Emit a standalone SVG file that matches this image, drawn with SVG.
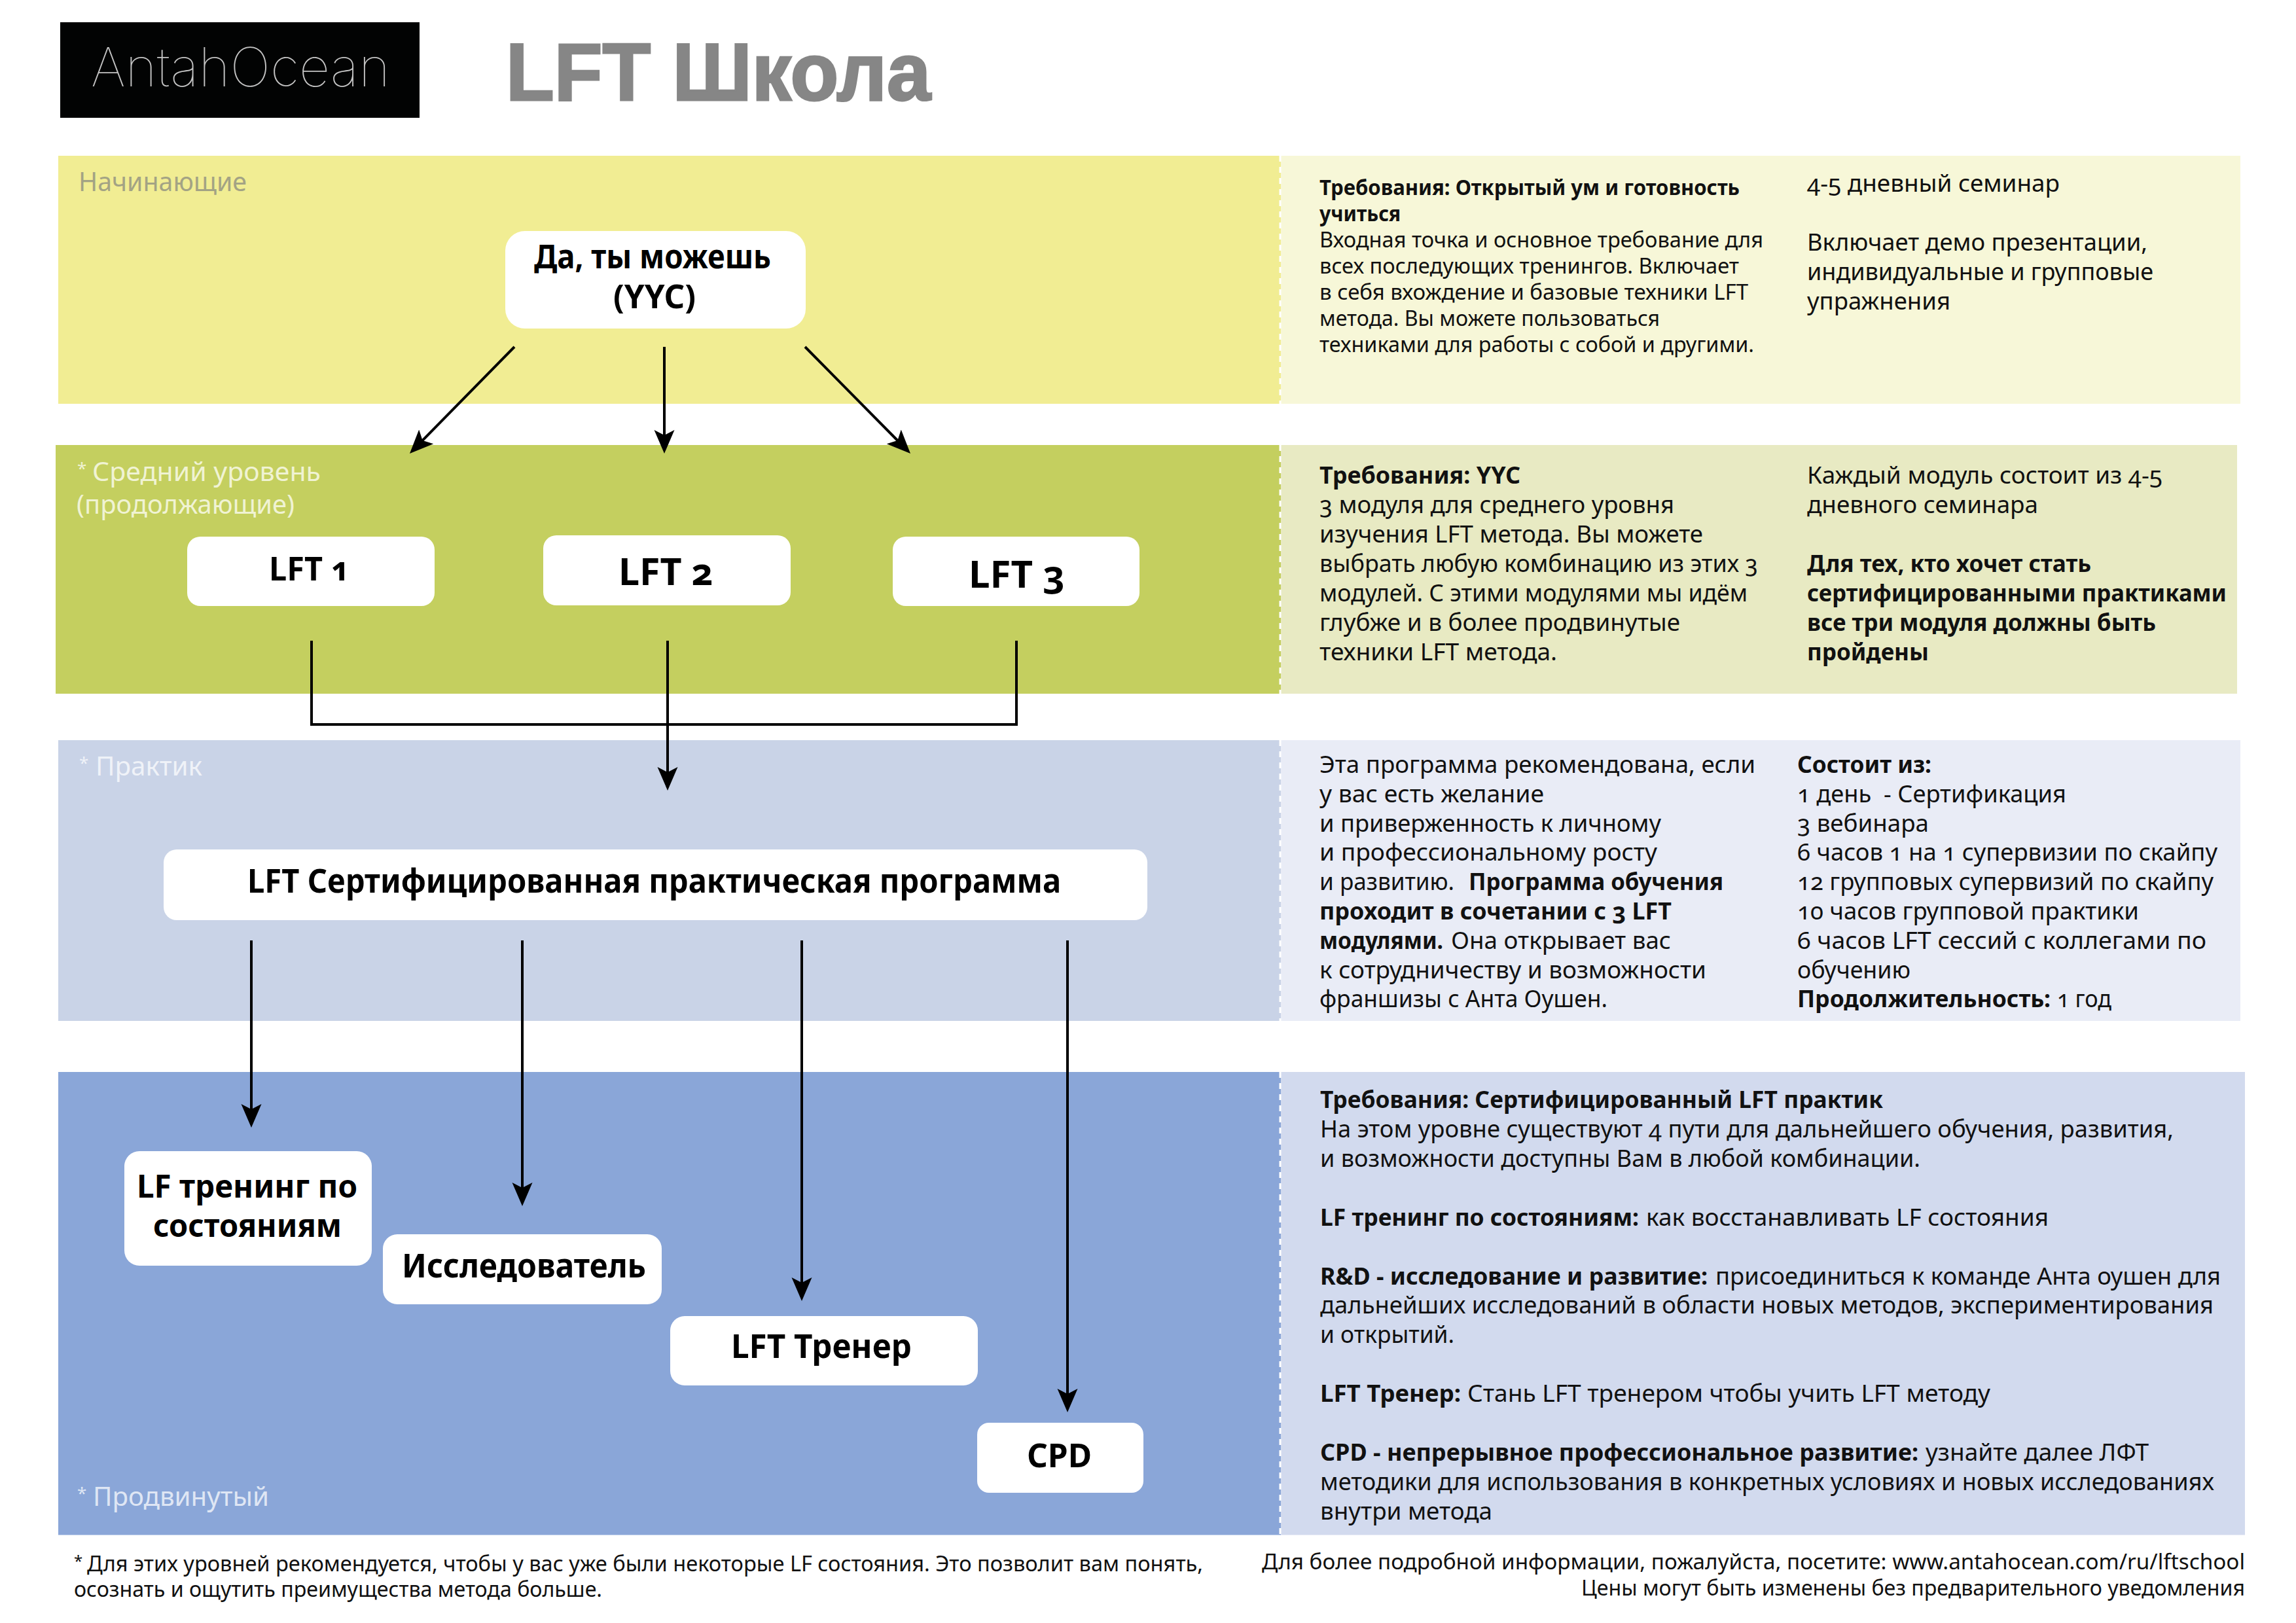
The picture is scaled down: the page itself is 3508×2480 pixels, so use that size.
<svg xmlns="http://www.w3.org/2000/svg" width="3508" height="2480" viewBox="0 0 3508 2480">
<style>
text{font-family:"Noto Sans","Open Sans","Liberation Sans",sans-serif;fill:#111;font-variant-numeric:oldstyle-nums;}
.t{font-size:36px;}
.s{font-size:32.5px;}
.f{font-size:32px;}
.b{font-weight:700;}
.l{font-size:40px;}
.n{font-size:50px;font-weight:700;fill:#000;}
.node{fill:#fff;}
.dash{stroke:#fff;stroke-width:3;stroke-dasharray:9 8;fill:none;}
.c{stroke:#000;stroke-width:4;fill:none;}
</style>
<defs>
<marker id="arrow" markerUnits="userSpaceOnUse" markerWidth="40" markerHeight="36" refX="24" refY="18" orient="auto">
<path d="M0,2.5 L36,18 L0,33.5 L8,18 z" fill="#000"/>
</marker>
</defs>
<rect width="3508" height="2480" fill="#fff"/>
<g id="header">
<rect x="92" y="34" width="549" height="146" fill="#020303"/>
<text x="139" y="132" font-size="82" textLength="457" lengthAdjust="spacingAndGlyphs" style="font-family:Inter,'Noto Sans',sans-serif;font-weight:100;fill:#c4c4c4">AntahOcean</text>
<text x="773" y="153" font-size="124" textLength="649" lengthAdjust="spacingAndGlyphs" style="font-family:'Liberation Sans',sans-serif;font-weight:700;fill:#868686;stroke:#868686;stroke-width:3">LFT Школа</text>
</g>
<g id="bands">
<rect x="89" y="238" width="1868" height="379" fill="#f1ed93"/>
<rect x="1957" y="238" width="1466" height="379" fill="#f7f7d8"/>
<rect x="85" y="680" width="1872" height="380" fill="#c4cf5f"/>
<rect x="1957" y="680" width="1461" height="380" fill="#e8eac3"/>
<rect x="89" y="1131" width="1868" height="429" fill="#c9d3e7"/>
<rect x="1957" y="1131" width="1466" height="429" fill="#e9ecf6"/>
<rect x="89" y="1638" width="1868" height="707.500" fill="#8aa6d8"/>
<rect x="1957" y="1638" width="1473" height="707.500" fill="#d2daee"/>
<path class="dash" d="M1956,238V617M1956,680V1060M1956,1131V1560M1956,1638V2345"/>
</g>
<g id="band-labels">
<text class="l" x="120" y="292" textLength="257" lengthAdjust="spacingAndGlyphs" style="fill:#a3a384">Начинающие</text>
<text class="l" y="735" style="fill:#f0f3d3"><tspan x="118" dy="-10" style="font-size:26px">*</tspan><tspan x="141" dy="10" textLength="349" lengthAdjust="spacingAndGlyphs">Средний уровень</tspan></text>
<text class="l" x="117" y="785" textLength="333" lengthAdjust="spacingAndGlyphs" style="fill:#f0f3d3">(продолжающие)</text>
<text class="l" y="1185" style="fill:#eff2f8"><tspan x="121" dy="-10" style="font-size:26px">*</tspan><tspan x="146" dy="10" textLength="163" lengthAdjust="spacingAndGlyphs">Практик</tspan></text>
<text class="l" y="2301" style="fill:#dfe6f4"><tspan x="118" dy="-10" style="font-size:26px">*</tspan><tspan x="142" dy="10" textLength="269" lengthAdjust="spacingAndGlyphs">Продвинутый</tspan></text>
</g>
<g id="connectors">
<path class="c" d="M786,530L634.4,684.4" marker-end="url(#arrow)"/>
<path class="c" d="M1015,530V681" marker-end="url(#arrow)"/>
<path class="c" d="M1230,530L1382.6,684.5" marker-end="url(#arrow)"/>
<path class="c" d="M476,979V1107H1553V979"/>
<path class="c" d="M1020,979V1196" marker-end="url(#arrow)"/>
<path class="c" d="M384,1437V1711" marker-end="url(#arrow)"/>
<path class="c" d="M798,1437V1831" marker-end="url(#arrow)"/>
<path class="c" d="M1225,1437V1976" marker-end="url(#arrow)"/>
<path class="c" d="M1631,1437V2146" marker-end="url(#arrow)"/>
</g>
<g id="node-yyc">
<rect class="node" x="772" y="353" width="459" height="149" rx="30"/>
<text class="n" x="816" y="410" textLength="362" lengthAdjust="spacingAndGlyphs">Да, ты можешь</text>
<text class="n" x="937" y="471" textLength="126" lengthAdjust="spacingAndGlyphs">(YYC)</text>
</g>
<g id="node-lft1">
<rect class="node" x="286" y="820" width="378" height="106" rx="20"/>
<text class="n" x="411" y="887" textLength="123" lengthAdjust="spacingAndGlyphs">LFT 1</text>
</g>
<g id="node-lft2">
<rect class="node" x="830" y="818" width="378" height="107" rx="20"/>
<text class="n" x="945" y="894" textLength="145" lengthAdjust="spacingAndGlyphs" style="font-size:58px">LFT 2</text>
</g>
<g id="node-lft3">
<rect class="node" x="1364" y="820" width="377" height="106" rx="20"/>
<text class="n" x="1480" y="898" textLength="147" lengthAdjust="spacingAndGlyphs" style="font-size:58px">LFT 3</text>
</g>
<g id="node-cert">
<rect class="node" x="250" y="1298" width="1503" height="108" rx="20"/>
<text class="n" x="378" y="1364" textLength="1243" lengthAdjust="spacingAndGlyphs">LFT Сертифицированная практическая программа</text>
</g>
<g id="node-states">
<rect class="node" x="190" y="1759" width="378" height="175" rx="23"/>
<text class="n" x="209" y="1830" textLength="337" lengthAdjust="spacingAndGlyphs" style="font-size:48px">LF тренинг по</text>
<text class="n" x="234" y="1890" textLength="288" lengthAdjust="spacingAndGlyphs" style="font-size:48px">состояниям</text>
</g>
<g id="node-researcher">
<rect class="node" x="585" y="1886" width="426" height="107" rx="22"/>
<text class="n" x="614" y="1952" textLength="373" lengthAdjust="spacingAndGlyphs">Исследователь</text>
</g>
<g id="node-trainer">
<rect class="node" x="1024" y="2011" width="470" height="106" rx="22"/>
<text class="n" x="1117" y="2075" textLength="276" lengthAdjust="spacingAndGlyphs">LFT Тренер</text>
</g>
<g id="node-cpd">
<rect class="node" x="1493" y="2174" width="254" height="107" rx="18"/>
<text class="n" x="1569" y="2242" textLength="99" lengthAdjust="spacingAndGlyphs">CPD</text>
</g>
<g id="text-beginner">
<text class="s b" x="2016" y="298" textLength="642" lengthAdjust="spacingAndGlyphs">Требования: Открытый ум и готовность</text>
<text class="s b" x="2016" y="338" textLength="124" lengthAdjust="spacingAndGlyphs">учиться</text>
<text class="s" x="2016" y="378" textLength="678" lengthAdjust="spacingAndGlyphs">Входная точка и основное требование для</text>
<text class="s" x="2016" y="418" textLength="641" lengthAdjust="spacingAndGlyphs">всех последующих тренингов. Включает</text>
<text class="s" x="2016" y="458" textLength="655" lengthAdjust="spacingAndGlyphs">в себя вхождение и базовые техники LFT</text>
<text class="s" x="2016" y="498" textLength="520" lengthAdjust="spacingAndGlyphs">метода. Вы можете пользоваться</text>
<text class="s" x="2016" y="538" textLength="664" lengthAdjust="spacingAndGlyphs">техниками для работы с собой и другими.</text>
<text class="t" x="2761" y="293" textLength="386" lengthAdjust="spacingAndGlyphs">4-5 дневный семинар</text>
<text class="t" x="2761" y="383" textLength="520" lengthAdjust="spacingAndGlyphs">Включает демо презентации,</text>
<text class="t" x="2761" y="428" textLength="529" lengthAdjust="spacingAndGlyphs">индивидуальные и групповые</text>
<text class="t" x="2761" y="473" textLength="219" lengthAdjust="spacingAndGlyphs">упражнения</text>
</g>
<g id="text-intermediate">
<text class="t b" x="2016" y="739" textLength="307" lengthAdjust="spacingAndGlyphs">Требования: YYC</text>
<text class="t" x="2016" y="784" textLength="542" lengthAdjust="spacingAndGlyphs">3 модуля для среднего уровня</text>
<text class="t" x="2016" y="829" textLength="586" lengthAdjust="spacingAndGlyphs">изучения LFT метода. Вы можете</text>
<text class="t" x="2016" y="874" textLength="670" lengthAdjust="spacingAndGlyphs">выбрать любую комбинацию из этих 3</text>
<text class="t" x="2016" y="919" textLength="654" lengthAdjust="spacingAndGlyphs">модулей. С этими модулями мы идём</text>
<text class="t" x="2016" y="964" textLength="551" lengthAdjust="spacingAndGlyphs">глубже и в более продвинутые</text>
<text class="t" x="2016" y="1009" textLength="363" lengthAdjust="spacingAndGlyphs">техники LFT метода.</text>
<text class="t" x="2761" y="739" textLength="543" lengthAdjust="spacingAndGlyphs">Каждый модуль состоит из 4-5</text>
<text class="t" x="2761" y="784" textLength="353" lengthAdjust="spacingAndGlyphs">дневного семинара</text>
<text class="t b" x="2761" y="874" textLength="434" lengthAdjust="spacingAndGlyphs">Для тех, кто хочет стать</text>
<text class="t b" x="2761" y="919" textLength="641" lengthAdjust="spacingAndGlyphs">сертифицированными практиками</text>
<text class="t b" x="2761" y="964" textLength="533" lengthAdjust="spacingAndGlyphs">все три модуля должны быть</text>
<text class="t b" x="2761" y="1009" textLength="186" lengthAdjust="spacingAndGlyphs">пройдены</text>
</g>
<g id="text-practitioner">
<text class="t" x="2016" y="1181" textLength="666" lengthAdjust="spacingAndGlyphs">Эта программа рекомендована, если</text>
<text class="t" x="2016" y="1226" textLength="343" lengthAdjust="spacingAndGlyphs">у вас есть желание</text>
<text class="t" x="2016" y="1271" textLength="522" lengthAdjust="spacingAndGlyphs">и приверженность к личному</text>
<text class="t" x="2016" y="1315" textLength="516" lengthAdjust="spacingAndGlyphs">и профессиональному росту</text>
<text class="t" x="2016" y="1360" textLength="206" lengthAdjust="spacingAndGlyphs">и развитию.</text>
<text class="t b" x="2244" y="1360" textLength="389" lengthAdjust="spacingAndGlyphs">Программа обучения</text>
<text class="t b" x="2016" y="1405" textLength="538" lengthAdjust="spacingAndGlyphs">проходит в сочетании с 3 LFT</text>
<text class="t b" x="2016" y="1450" textLength="189" lengthAdjust="spacingAndGlyphs">модулями.</text>
<text class="t" x="2217" y="1450" textLength="336" lengthAdjust="spacingAndGlyphs">Она открывает вас</text>
<text class="t" x="2016" y="1495" textLength="591" lengthAdjust="spacingAndGlyphs">к сотрудничеству и возможности</text>
<text class="t" x="2016" y="1539" textLength="440" lengthAdjust="spacingAndGlyphs">франшизы с Анта Оушен.</text>
<text class="t b" x="2746" y="1181" textLength="205" lengthAdjust="spacingAndGlyphs">Состоит из:</text>
<text class="t" x="2746" y="1226" textLength="411" lengthAdjust="spacingAndGlyphs" xml:space="preserve">1 день  - Сертификация</text>
<text class="t" x="2746" y="1271" textLength="201" lengthAdjust="spacingAndGlyphs">3 вебинара</text>
<text class="t" x="2746" y="1315" textLength="642" lengthAdjust="spacingAndGlyphs">6 часов 1 на 1 супервизии по скайпу</text>
<text class="t" x="2746" y="1360" textLength="636" lengthAdjust="spacingAndGlyphs">12 групповых супервизий по скайпу</text>
<text class="t" x="2746" y="1405" textLength="522" lengthAdjust="spacingAndGlyphs">10 часов групповой практики</text>
<text class="t" x="2746" y="1450" textLength="625" lengthAdjust="spacingAndGlyphs">6 часов LFT сессий с коллегами по</text>
<text class="t" x="2746" y="1495" textLength="173" lengthAdjust="spacingAndGlyphs">обучению</text>
<text class="t b" x="2746" y="1539" textLength="387" lengthAdjust="spacingAndGlyphs">Продолжительность:</text>
<text class="t" x="3143" y="1539" textLength="83" lengthAdjust="spacingAndGlyphs">1 год</text>
</g>
<g id="text-advanced">
<text class="t b" x="2017" y="1693" textLength="860" lengthAdjust="spacingAndGlyphs">Требования: Сертифицированный LFT практик</text>
<text class="t" x="2017" y="1738" textLength="1304" lengthAdjust="spacingAndGlyphs">На этом уровне существуют 4 пути для дальнейшего обучения, развития,</text>
<text class="t" x="2017" y="1783" textLength="917" lengthAdjust="spacingAndGlyphs">и возможности доступны Вам в любой комбинации.</text>
<text class="t b" x="2017" y="1873" textLength="487" lengthAdjust="spacingAndGlyphs">LF тренинг по состояниям:</text>
<text class="t" x="2515" y="1873" textLength="615" lengthAdjust="spacingAndGlyphs">как восстанавливать LF состояния</text>
<text class="t b" x="2017" y="1963" textLength="592" lengthAdjust="spacingAndGlyphs">R&amp;D - исследование и развитие:</text>
<text class="t" x="2621" y="1963" textLength="772" lengthAdjust="spacingAndGlyphs">присоединиться к команде Анта оушен для</text>
<text class="t" x="2017" y="2007" textLength="1365" lengthAdjust="spacingAndGlyphs">дальнейших исследований в области новых методов, экспериментирования</text>
<text class="t" x="2017" y="2052" textLength="205" lengthAdjust="spacingAndGlyphs">и открытий.</text>
<text class="t b" x="2017" y="2142" textLength="215" lengthAdjust="spacingAndGlyphs">LFT Тренер:</text>
<text class="t" x="2242" y="2142" textLength="799" lengthAdjust="spacingAndGlyphs">Стань LFT тренером чтобы учить LFT методу</text>
<text class="t b" x="2017" y="2232" textLength="914" lengthAdjust="spacingAndGlyphs">CPD - непрерывное профессиональное развитие:</text>
<text class="t" x="2942" y="2232" textLength="341" lengthAdjust="spacingAndGlyphs">узнайте далее ЛФТ</text>
<text class="t" x="2017" y="2277" textLength="1366" lengthAdjust="spacingAndGlyphs">методики для использования в конкретных условиях и новых исследованиях</text>
<text class="t" x="2017" y="2322" textLength="263" lengthAdjust="spacingAndGlyphs">внутри метода</text>
</g>
<g id="footer">
<text class="f" y="2401"><tspan x="113" dy="-7" style="font-size:24px">*</tspan><tspan x="133" dy="7" textLength="1705" lengthAdjust="spacingAndGlyphs">Для этих уровней рекомендуется, чтобы у вас уже были некоторые LF состояния. Это позволит вам понять,</tspan></text>
<text class="f" x="113" y="2440" textLength="807" lengthAdjust="spacingAndGlyphs">осознать и ощутить преимущества метода больше.</text>
<text class="f" x="1928" y="2398" textLength="1502" lengthAdjust="spacingAndGlyphs">Для более подробной информации, пожалуйста, посетите: www.antahocean.com/ru/lftschool</text>
<text class="f" x="2416" y="2438" textLength="1014" lengthAdjust="spacingAndGlyphs">Цены могут быть изменены без предварительного уведомления</text>
</g>
</svg>
